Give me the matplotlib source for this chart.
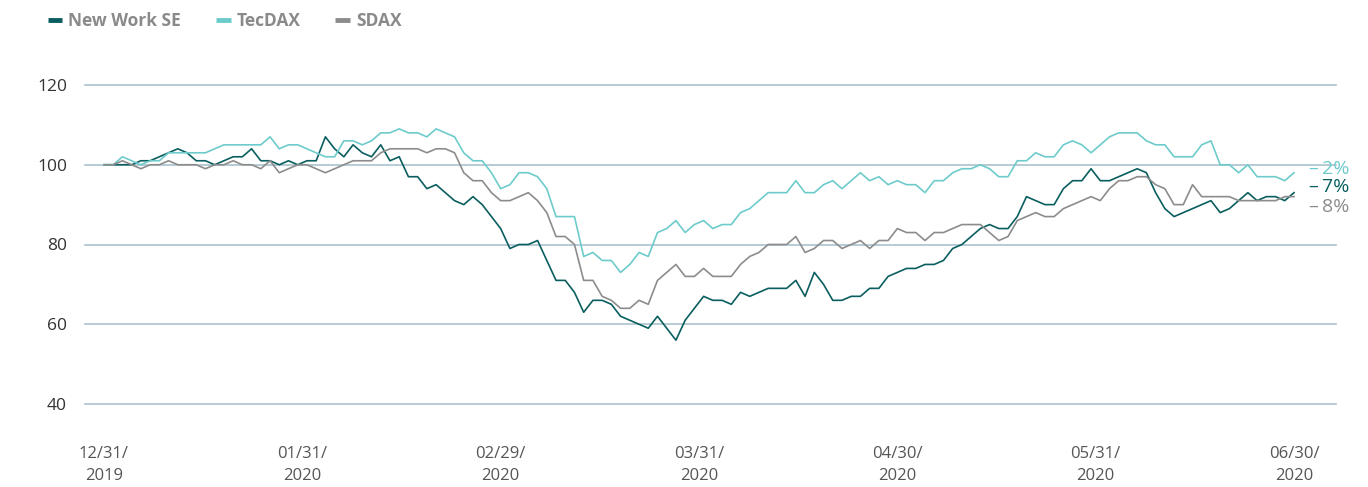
import numpy as np
import matplotlib
matplotlib.use("Agg")
import matplotlib.pyplot as plt
from matplotlib.lines import Line2D

plt.rcParams['font.family'] = ['Open Sans', 'DejaVu Sans']

# indexed performance, 31.12.2019 = 100 (one value per trading day)
new_work = [100, 100, 100, 100, 101, 101, 102, 103, 104, 103, 101, 101, 100, 101, 102, 102, 104, 101, 101, 100, 101,
            100, 101, 101, 107, 104, 102, 105, 103, 102, 105, 101, 102, 97, 97, 94, 95, 93, 91, 90, 92,
            90, 87, 84, 79, 80, 80, 81, 76, 71, 71, 68, 63, 66, 66, 65, 62, 61, 60, 59, 62,
            59, 56, 61, 64, 67, 66, 66, 65, 68, 67, 68, 69, 69, 69, 71, 67, 73, 70, 66, 66,
            67, 67, 69, 69, 72, 73, 74, 74, 75, 75, 76, 79, 80, 82, 84, 85, 84, 84, 87, 92,
            91, 90, 90, 94, 96, 96, 99, 96, 96, 97, 98, 99, 98, 93, 89, 87, 88, 89, 90, 91,
            88, 89, 91, 93, 91, 92, 92, 91, 93]
tecdax = [100, 100, 102, 101, 100, 101, 101, 103, 103, 103, 103, 103, 104, 105, 105, 105, 105, 105, 107, 104, 105,
          105, 104, 103, 102, 102, 106, 106, 105, 106, 108, 108, 109, 108, 108, 107, 109, 108, 107, 103, 101,
          101, 98, 94, 95, 98, 98, 97, 94, 87, 87, 87, 77, 78, 76, 76, 73, 75, 78, 77, 83,
          84, 86, 83, 85, 86, 84, 85, 85, 88, 89, 91, 93, 93, 93, 96, 93, 93, 95, 96, 94,
          96, 98, 96, 97, 95, 96, 95, 95, 93, 96, 96, 98, 99, 99, 100, 99, 97, 97, 101, 101,
          103, 102, 102, 105, 106, 105, 103, 105, 107, 108, 108, 108, 106, 105, 105, 102, 102, 102, 105, 106,
          100, 100, 98, 100, 97, 97, 97, 96, 98]
sdax = [100, 100, 101, 100, 99, 100, 100, 101, 100, 100, 100, 99, 100, 100, 101, 100, 100, 99, 101, 98, 99,
        100, 100, 99, 98, 99, 100, 101, 101, 101, 103, 104, 104, 104, 104, 103, 104, 104, 103, 98, 96,
        96, 93, 91, 91, 92, 93, 91, 88, 82, 82, 80, 71, 71, 67, 66, 64, 64, 66, 65, 71,
        73, 75, 72, 72, 74, 72, 72, 72, 75, 77, 78, 80, 80, 80, 82, 78, 79, 81, 81, 79,
        80, 81, 79, 81, 81, 84, 83, 83, 81, 83, 83, 84, 85, 85, 85, 83, 81, 82, 86, 87,
        88, 87, 87, 89, 90, 91, 92, 91, 94, 96, 96, 97, 97, 95, 94, 90, 90, 95, 92, 92,
        92, 92, 91, 91, 91, 91, 91, 92, 92]

series_names = ["New Work SE", "TecDAX", "SDAX"]
colors = ["#0a5e5f", "#6ecbcb", "#8c8c8c"]
date_labels = ["12/31/\n2019", "01/31/\n2020", "02/29/\n2020", "03/31/\n2020",
               "04/30/\n2020", "05/31/\n2020", "06/30/\n2020"]
y_ticks = [40, 60, 80, 100, 120]

fig = plt.figure(figsize=(13.68, 4.87), dpi=100)
ax = fig.add_axes([85 / 1368, 1 - 404 / 487, (1336 - 85) / 1368, (404 - 85) / 487])

n = len(new_work)
x = np.arange(n)
for vals, c in zip([new_work, tecdax, sdax], colors):
    ax.plot(x, vals, color=c, lw=1.2, clip_on=False, zorder=3)

ax.set_ylim(40, 120)
px = (n - 1) / (1294 - 104)
ax.set_xlim(-(104 - 85) * px, (n - 1) + (1336 - 1294) * px)
ax.set_yticks(y_ticks)
for yv in y_ticks:
    ax.axhline(yv, color="#aac2ce", lw=1.2, zorder=1, clip_on=False)

ax.set_xticks(np.linspace(0, n - 1, len(date_labels)))
ax.set_xticklabels(date_labels, ha="center", multialignment="center", linespacing=1.5)
ax.tick_params(axis="x", length=0, pad=30, labelsize=12, labelcolor="#555555")
ax.tick_params(axis="y", length=0, pad=13, labelsize=12.5, labelcolor="#333333")
for s in ax.spines.values():
    s.set_visible(False)

# end labels: change in percent vs. start
label_y = [99.0, 94.4, 89.4]
for vals, c, ly in zip([tecdax, new_work, sdax], [colors[1], colors[0], colors[2]], label_y):
    chg = vals[-1] - 100
    ax.text(n - 1 + 15 * px, ly, f"\u2013\u2009{abs(chg)}%", color=c, fontsize=14,
            ha="left", va="center", clip_on=False)

handles = [Line2D([0], [0], color=c, lw=3.5, solid_capstyle="butt") for c in colors]
leg = fig.legend(handles, series_names, loc="upper left", bbox_to_anchor=(32 / 1368, 1.007),
                 ncol=3, frameon=False, handlelength=0.85, handletextpad=0.35,
                 columnspacing=2.0, prop={"weight": "bold", "size": 12.5})
for t in leg.get_texts():
    t.set_color("#8a8a8a")

fig.savefig("out.png", dpi=100)
